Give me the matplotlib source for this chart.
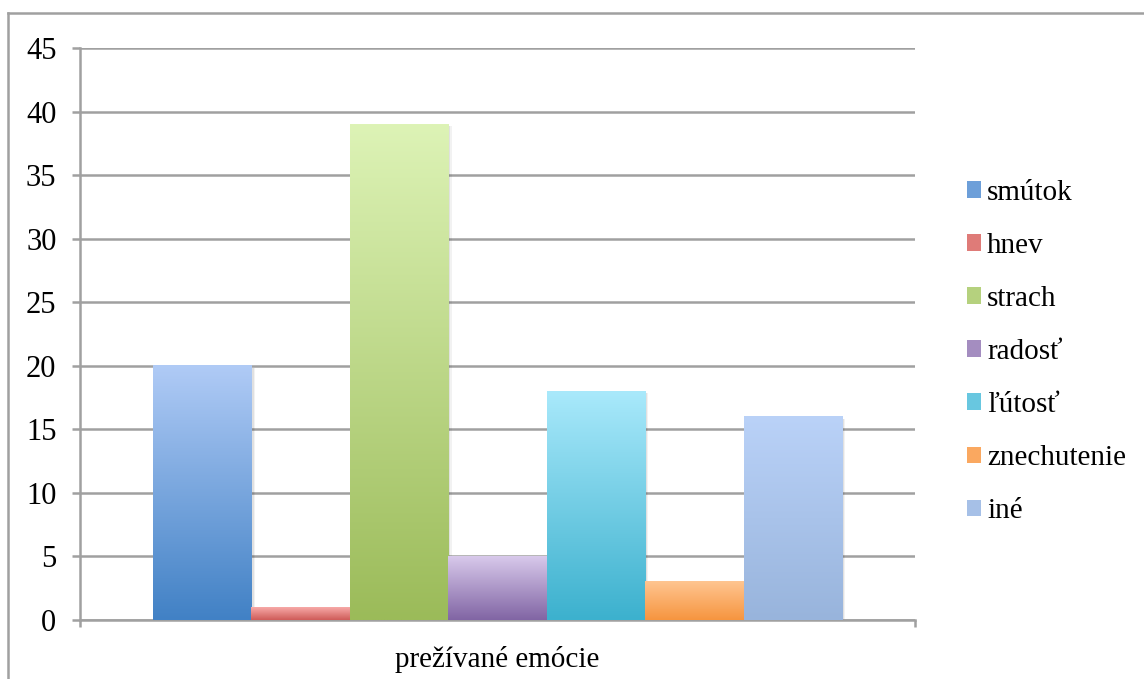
import numpy as np
import matplotlib
matplotlib.use("Agg")
import matplotlib.pyplot as plt
from matplotlib.colors import LinearSegmentedColormap, to_rgb
from matplotlib.patches import Patch, Rectangle
from matplotlib.lines import Line2D

plt.rcParams['font.family'] = ['Liberation Serif', 'DejaVu Serif']

categories = ['smútok', 'hnev', 'strach', 'radosť', 'ľútosť', 'znechutenie', 'iné']
values = [20, 1, 39, 5, 18, 3, 16]
top_colors = ['#b0cbf6', '#f7aaa8', '#ddf3b6', '#d8c9eb', '#a9e9fb', '#ffc591', '#bad2f8']
bot_colors = ['#4181c5', '#cf5b58', '#9bbb59', '#8165a4', '#3cb1ce', '#f6953f', '#98b4dc']
group_label = 'prežívané emócie'

W, H = 1144, 679
fig = plt.figure(figsize=(W / 100, H / 100), dpi=100)
ax = fig.add_axes([80 / W, (H - 620) / H, (915 - 80) / W, (620 - 48) / H])

# outer chart frame (runs off the image on right and bottom)
fig.add_artist(Line2D([8 / W, 8 / W], [0, (H - 13) / H], color='#a0a0a0', lw=1.8))
fig.add_artist(Line2D([8 / W, 1.0], [(H - 13) / H, (H - 13) / H], color='#a0a0a0', lw=1.8))

n = len(values)
group = 0.825
w = group / n
grad = np.linspace(1, 0, 256).reshape(-1, 1)
handles = []
for i, (v, ct, cb) in enumerate(zip(values, top_colors, bot_colors)):
    x0 = 0.5 - group / 2 + i * w
    # soft shadow
    for k, a in [(0.004, 0.05), (0.0025, 0.07)]:
        ax.add_patch(Rectangle((x0 + k, 0), w, v - 0.15, color='#000000', alpha=a,
                               lw=0, zorder=2))
    cmap = LinearSegmentedColormap.from_list('c%d' % i, [cb, ct])
    ax.imshow(grad, cmap=cmap, extent=[x0, x0 + w, 0, v], aspect='auto',
              origin='upper', zorder=3, interpolation='bilinear')
    mid = tuple(0.6 * np.array(to_rgb(cb)) + 0.4 * np.array(to_rgb(ct)))
    handles.append(Patch(facecolor=mid, edgecolor='none', label=categories[i]))

ax.set_xlim(0, 1)
ax.set_ylim(0, 45)
ax.set_yticks(np.arange(0, 46, 5))
ax.yaxis.grid(True, color='#a0a0a0', lw=1.8)
ax.set_axisbelow(True)
ax.set_xticks([0, 1])
ax.set_xticklabels([])
ax.tick_params(axis='x', length=5, width=1.8, color='#a0a0a0')
ax.set_xticks([0.5], minor=True)
ax.set_xticklabels([group_label], minor=True)
ax.tick_params(axis='x', which='minor', length=0, pad=19, labelsize=21)
ax.tick_params(axis='y', length=6, width=1.8, color='#a0a0a0', pad=11, labelsize=22)
for s in ['top', 'right']:
    ax.spines[s].set_visible(False)
for s in ['left', 'bottom']:
    ax.spines[s].set_color('#a0a0a0')
    ax.spines[s].set_linewidth(1.8)

fig.legend(handles=handles, loc='center left', bbox_to_anchor=(952 / W, (H - 352) / H),
           frameon=False, fontsize=21, labelspacing=0.93, handlelength=0.5,
           handleheight=0.5, handletextpad=0.2, borderpad=0)

fig.savefig('out.png', dpi=100, facecolor='white')
